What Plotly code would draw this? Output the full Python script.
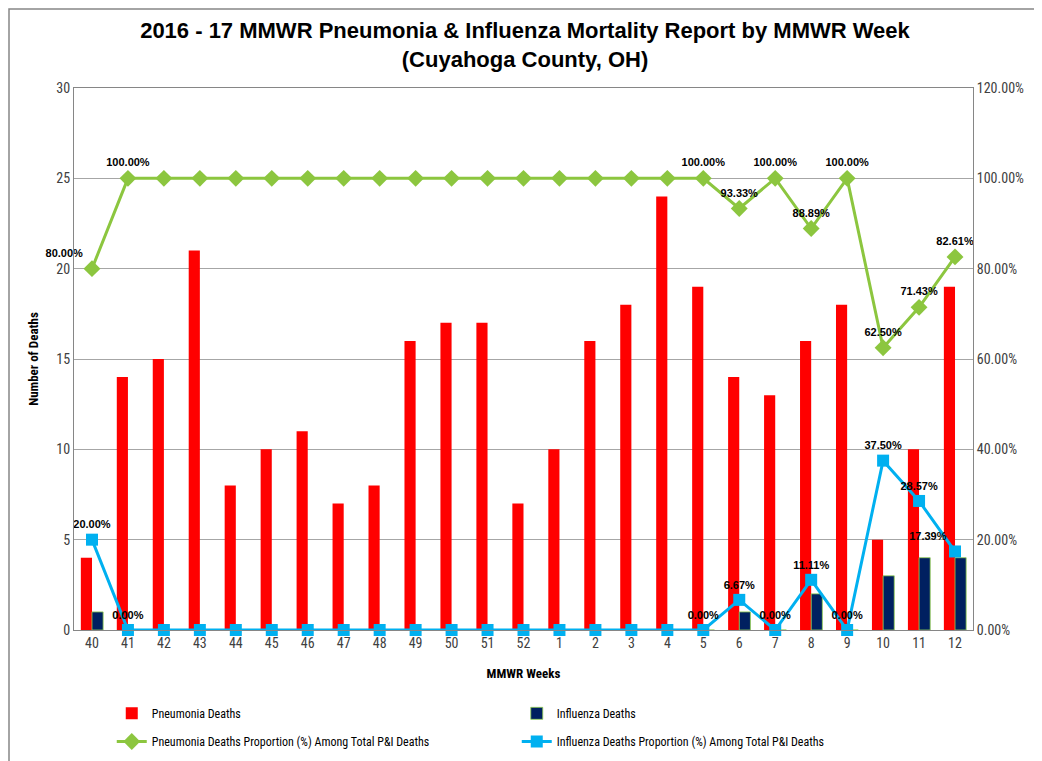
import plotly.graph_objects as go

weeks = ["40","41","42","43","44","45","46","47","48","49","50","51","52",
         "1","2","3","4","5","6","7","8","9","10","11","12"]
pneumonia_deaths = [4,14,15,21,8,10,11,7,8,16,17,17,7,10,16,18,24,19,14,13,16,18,5,10,19]
influenza_deaths = [1,0,0,0,0,0,0,0,0,0,0,0,0,0,0,0,0,0,1,0,2,0,3,4,4]
pneumonia_pct = [0.80,1,1,1,1,1,1,1,1,1,1,1,1,1,1,1,1,1,0.9333,1,0.8889,1,0.625,0.7143,0.8261]
influenza_pct = [0.20,0,0,0,0,0,0,0,0,0,0,0,0,0,0,0,0,0,0.0667,0,0.1111,0,0.375,0.2857,0.1739]
# which points carry a data label
labeled = ["40","41","5","6","7","8","9","10","11","12"]

def labels(vals):
    return [f"{v*100:.2f}%" if w in labeled else "" for w, v in zip(weeks, vals)]

pos_p = ["top left" if w == "40" else "top center" for w in weeks]
pos_i = ["top left" if w == "12" else "top center" for w in weeks]

FONT = "Liberation Sans Narrow, Roboto Condensed, Liberation Sans, Arial"
LBL = dict(size=11, color="#000000", family="Liberation Sans", weight="bold")

fig = go.Figure()
fig.add_trace(go.Bar(x=weeks, y=pneumonia_deaths, name="Pneumonia Deaths", legend="legend",
                     marker=dict(color="#FF0000", line=dict(width=0))))
fig.add_trace(go.Bar(x=weeks, y=influenza_deaths, name="Influenza Deaths", legend="legend",
                     marker=dict(color="#002060", line=dict(color="#92D050", width=0.8))))
fig.add_trace(go.Scatter(x=weeks, y=pneumonia_pct, yaxis="y2", legend="legend2",
                         name="Pneumonia Deaths Proportion (%) Among Total P&I Deaths",
                         mode="lines+markers+text", text=labels(pneumonia_pct),
                         textposition=pos_p, textfont=LBL, cliponaxis=False,
                         line=dict(color="#8CC63F", width=3),
                         marker=dict(symbol="diamond", size=13, color="#8CC63F")))
fig.add_trace(go.Scatter(x=weeks, y=influenza_pct, yaxis="y2", legend="legend2",
                         name="Influenza Deaths Proportion (%) Among Total P&I Deaths",
                         mode="lines+markers+text", text=labels(influenza_pct),
                         textposition=pos_i, textfont=LBL, cliponaxis=False,
                         line=dict(color="#00B0F0", width=3),
                         marker=dict(symbol="square", size=12, color="#00B0F0")))

legend_common = dict(orientation="h", xanchor="left", yanchor="top",
                     entrywidth=360, entrywidthmode="pixels", traceorder="normal",
                     font=dict(size=12, color="#000000"), itemwidth=30, tracegroupgap=0,
                     bgcolor="rgba(0,0,0,0)")

fig.update_layout(
    width=1034, height=753,
    paper_bgcolor="white", plot_bgcolor="white",
    font=dict(family=FONT, color="#404040", size=14),
    title=dict(text="<b>2016 - 17 MMWR Pneumonia & Influenza Mortality Report by MMWR Week<br>(Cuyahoga County, OH)</b>",
               x=0.5, xanchor="center", y=0.96, yanchor="top",
               font=dict(size=22, color="#000000", family="Liberation Sans, Arial")),
    margin=dict(l=66, r=69, t=80, b=131, autoexpand=False),
    barmode="group", bargap=0.38, bargroupgap=0,
    xaxis=dict(type="category", range=[-0.5, 24.5], showline=True, linecolor="#868686",
               linewidth=1, mirror=True, ticks="", automargin=False,
               tickfont=dict(size=14, color="#404040"),
               title=dict(text="<b>MMWR Weeks</b>", font=dict(size=13, color="#000000"), standoff=19)),
    yaxis=dict(range=[0, 30], dtick=5, showgrid=True, gridcolor="#A6A6A6", gridwidth=1,
               showline=True, linecolor="#868686", ticks="", automargin=False,
               zeroline=False, tickfont=dict(size=14, color="#404040"),
               title=dict(text="<b>Number of Deaths</b>", font=dict(size=13, color="#000000"), standoff=14)),
    yaxis2=dict(range=[0, 1.2], dtick=0.2, tickformat=".2%", overlaying="y", side="right",
                showgrid=False, showline=True, linecolor="#868686", ticks="", automargin=False,
                zeroline=False, tickfont=dict(size=14, color="#404040")),
    legend=dict(x=0.042, y=-0.127, **legend_common),
    legend2=dict(x=0.042, y=-0.179, **legend_common),
    showlegend=True,
)

fig.add_shape(type="rect", xref="paper", yref="paper",
              x0=-0.0723, x1=1.082, y0=-0.251, y1=1.1458,
              line=dict(color="#868686", width=1.5), fillcolor="rgba(0,0,0,0)", layer="below")

fig.write_html("out.html")
